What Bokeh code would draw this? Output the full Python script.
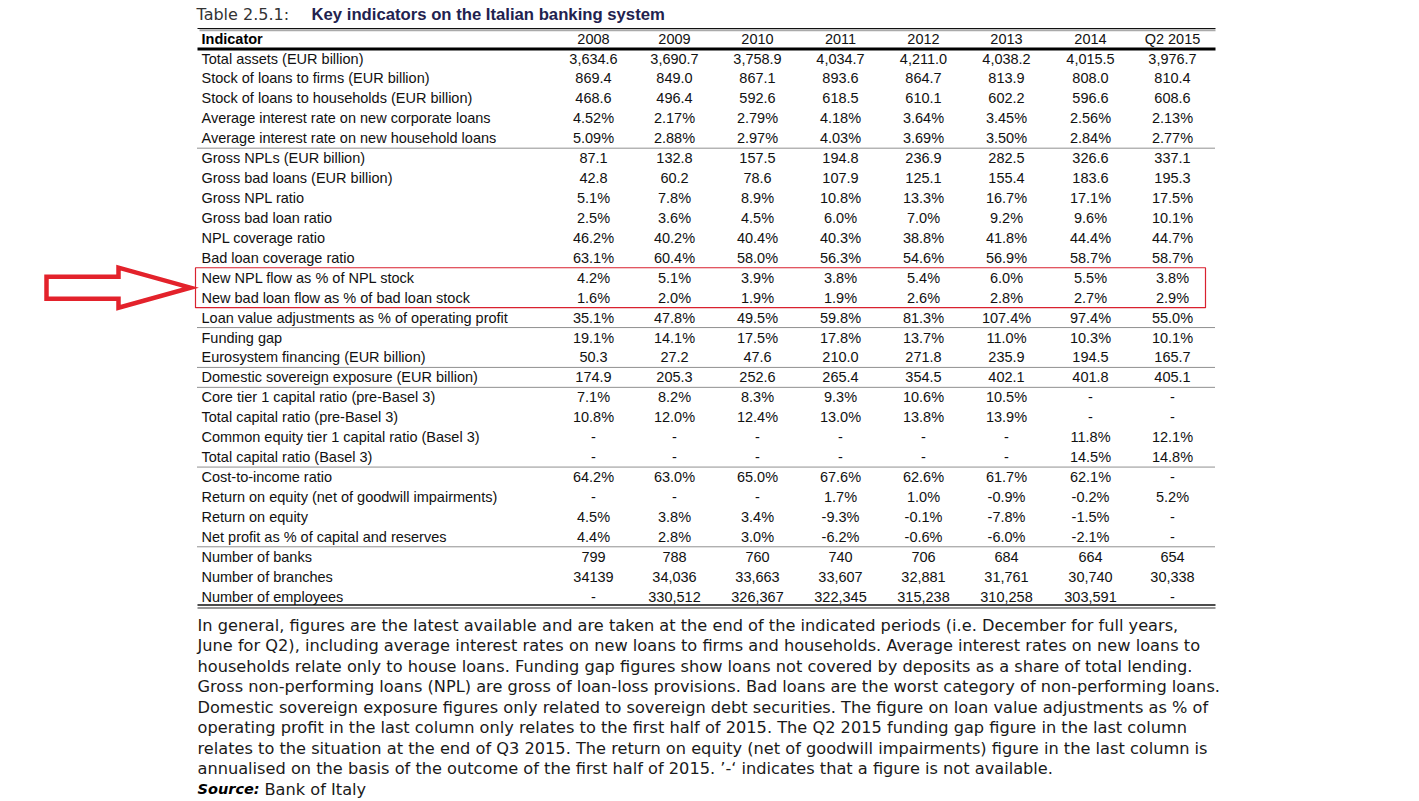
from bokeh.plotting import figure
from bokeh.models import Range1d, ColumnDataSource
from bokeh.core.properties import value
from bokeh.embed import file_html
from bokeh.resources import INLINE

# ---------------- data ----------------
title_prefix = "Table 2.5.1:"
title_main = "Key indicators on the Italian banking system"
header_label = "Indicator"
periods = ["2008", "2009", "2010", "2011", "2012", "2013", "2014", "Q2 2015"]

indicators = [
    "Total assets (EUR billion)",
    "Stock of loans to firms (EUR billion)",
    "Stock of loans to households (EUR billion)",
    "Average interest rate on new corporate loans",
    "Average interest rate on new household loans",
    "Gross NPLs (EUR billion)",
    "Gross bad loans (EUR billion)",
    "Gross NPL ratio",
    "Gross bad loan ratio",
    "NPL coverage ratio",
    "Bad loan coverage ratio",
    "New NPL flow as % of NPL stock",
    "New bad loan flow as % of bad loan stock",
    "Loan value adjustments as % of operating profit",
    "Funding gap",
    "Eurosystem financing (EUR billion)",
    "Domestic sovereign exposure (EUR billion)",
    "Core tier 1 capital ratio (pre-Basel 3)",
    "Total capital ratio (pre-Basel 3)",
    "Common equity tier 1 capital ratio (Basel 3)",
    "Total capital ratio (Basel 3)",
    "Cost-to-income ratio",
    "Return on equity (net of goodwill impairments)",
    "Return on equity",
    "Net profit as % of capital and reserves",
    "Number of banks",
    "Number of branches",
    "Number of employees",
]

v2008 = ["3,634.6", "869.4", "468.6", "4.52%", "5.09%", "87.1", "42.8", "5.1%", "2.5%", "46.2%", "63.1%",
         "4.2%", "1.6%", "35.1%", "19.1%", "50.3", "174.9", "7.1%", "10.8%", "-", "-", "64.2%", "-", "4.5%",
         "4.4%", "799", "34139", "-"]
v2009 = ["3,690.7", "849.0", "496.4", "2.17%", "2.88%", "132.8", "60.2", "7.8%", "3.6%", "40.2%", "60.4%",
         "5.1%", "2.0%", "47.8%", "14.1%", "27.2", "205.3", "8.2%", "12.0%", "-", "-", "63.0%", "-", "3.8%",
         "2.8%", "788", "34,036", "330,512"]
v2010 = ["3,758.9", "867.1", "592.6", "2.79%", "2.97%", "157.5", "78.6", "8.9%", "4.5%", "40.4%", "58.0%",
         "3.9%", "1.9%", "49.5%", "17.5%", "47.6", "252.6", "8.3%", "12.4%", "-", "-", "65.0%", "-", "3.4%",
         "3.0%", "760", "33,663", "326,367"]
v2011 = ["4,034.7", "893.6", "618.5", "4.18%", "4.03%", "194.8", "107.9", "10.8%", "6.0%", "40.3%", "56.3%",
         "3.8%", "1.9%", "59.8%", "17.8%", "210.0", "265.4", "9.3%", "13.0%", "-", "-", "67.6%", "1.7%", "-9.3%",
         "-6.2%", "740", "33,607", "322,345"]
v2012 = ["4,211.0", "864.7", "610.1", "3.64%", "3.69%", "236.9", "125.1", "13.3%", "7.0%", "38.8%", "54.6%",
         "5.4%", "2.6%", "81.3%", "13.7%", "271.8", "354.5", "10.6%", "13.8%", "-", "-", "62.6%", "1.0%", "-0.1%",
         "-0.6%", "706", "32,881", "315,238"]
v2013 = ["4,038.2", "813.9", "602.2", "3.45%", "3.50%", "282.5", "155.4", "16.7%", "9.2%", "41.8%", "56.9%",
         "6.0%", "2.8%", "107.4%", "11.0%", "235.9", "402.1", "10.5%", "13.9%", "-", "-", "61.7%", "-0.9%", "-7.8%",
         "-6.0%", "684", "31,761", "310,258"]
v2014 = ["4,015.5", "808.0", "596.6", "2.56%", "2.84%", "326.6", "183.6", "17.1%", "9.6%", "44.4%", "58.7%",
         "5.5%", "2.7%", "97.4%", "10.3%", "194.5", "401.8", "-", "-", "11.8%", "14.5%", "62.1%", "-0.2%", "-1.5%",
         "-2.1%", "664", "30,740", "303,591"]
vq22015 = ["3,976.7", "810.4", "608.6", "2.13%", "2.77%", "337.1", "195.3", "17.5%", "10.1%", "44.7%", "58.7%",
           "3.8%", "2.9%", "55.0%", "10.1%", "165.7", "405.1", "-", "-", "12.1%", "14.8%", "-", "5.2%", "-",
           "-", "654", "30,338", "-"]
columns = [v2008, v2009, v2010, v2011, v2012, v2013, v2014, vq22015]

# rows after which a dotted separator is drawn
separators_after = [4, 13, 15, 16, 20, 24]
# rows framed in red
highlight_rows = [11, 12]

notes = [
    "In general, figures are the latest available and are taken at the end of the indicated periods (i.e. December for full years,",
    "June for Q2), including average interest rates on new loans to firms and households. Average interest rates on new loans to",
    "households relate only to house loans. Funding gap figures show loans not covered by deposits as a share of total lending.",
    "Gross non-performing loans (NPL) are gross of loan-loss provisions. Bad loans are the worst category of non-performing loans.",
    "Domestic sovereign exposure figures only related to sovereign debt securities. The figure on loan value adjustments as % of",
    "operating profit in the last column only relates to the first half of 2015. The Q2 2015 funding gap figure in the last column",
    "relates to the situation at the end of Q3 2015. The return on equity (net of goodwill impairments) figure in the last column is",
    "annualised on the basis of the outcome of the first half of 2015. \u2019-\u2018 indicates that a figure is not available.",
]
source_label = "Source:"
source_text = "Bank of Italy"

# ---------------- layout ----------------
W, H = 1411, 800
p = figure(width=W, height=H, x_range=Range1d(0, W), y_range=Range1d(H, 0),
           output_backend="svg", toolbar_location=None, min_border=0,
           x_axis_type=None, y_axis_type=None)
p.grid.visible = False
p.outline_line_color = None
p.background_fill_color = "white"

TFONT = value("Liberation Sans")
TSIZE = "14.5px"
TCOL = "#111111"
left, right = 197, 1215
label_x = 201
col_x = [593, 674, 757, 840, 923, 1006, 1090, 1172]
row0, row_h = 58, 19.93
header_y = 38
row_y = [row0 + i * row_h for i in range(len(indicators))]

# title
p.text(x=[196], y=[14], text=[title_prefix], text_font=value("DejaVu Sans"), text_font_size="16px",
       text_color="#333333", text_baseline="middle", text_align="left", text_font_style="normal")
p.text(x=[311], y=[14], text=[title_main], text_font=value("Liberation Sans"), text_font_size="16.7px",
       text_color="#22224f", text_baseline="middle", text_align="left", text_font_style="bold")

# rules
p.segment(x0=[left], y0=[28], x1=[right], y1=[28], line_color="#111111", line_width=1.2)
p.segment(x0=[left + 2], y0=[29.8], x1=[right], y1=[29.8], line_color="#aaaaaa", line_width=2)
p.segment(x0=[left], y0=[48.5], x1=[right], y1=[48.5], line_color="#000000", line_width=3)
p.segment(x0=[left], y0=[604.5], x1=[right], y1=[604.5], line_color="#111111", line_width=1.5)
p.segment(x0=[left], y0=[607.5], x1=[right], y1=[607.5], line_color="#777777", line_width=1.5)
sep_y = [row_y[k] + row_h / 2 for k in separators_after]
p.segment(x0=[left] * len(sep_y), y0=sep_y, x1=[right] * len(sep_y), y1=sep_y,
          line_color="#222222", line_width=1, line_dash="1 1")

# header
p.text(x=[label_x], y=[header_y], text=[header_label], text_font=TFONT, text_font_size=TSIZE,
       text_color="#000000", text_font_style="bold", text_baseline="middle", text_align="left")
p.text(x=col_x, y=[header_y] * len(periods), text=periods, text_font=TFONT, text_font_size=TSIZE,
       text_color=TCOL, text_baseline="middle", text_align="center")

# labels
p.text(x=[label_x] * len(indicators), y=row_y, text=indicators, text_font=TFONT, text_font_size=TSIZE,
       text_color=TCOL, text_baseline="middle", text_align="left")

# values
xs, ys, ts = [], [], []
for cx, col in zip(col_x, columns):
    for ry, t in zip(row_y, col):
        xs.append(cx)
        ys.append(ry)
        ts.append(t)
src = ColumnDataSource(dict(x=xs, y=ys, t=ts))
p.text(x="x", y="y", text="t", source=src, text_font=TFONT, text_font_size=TSIZE,
       text_color=TCOL, text_baseline="middle", text_align="center")

# red highlight box
top = row_y[highlight_rows[0]] - row_h / 2
bot = row_y[highlight_rows[-1]] + row_h / 2
p.quad(left=[195], right=[1205], top=[top], bottom=[bot], fill_alpha=0,
       line_color="#d9212f", line_width=1.2)

# red arrow
ay = (top + bot) / 2
arrow_x = [46, 118, 118, 190, 118, 118, 46]
arrow_y = [ay - 11, ay - 11, ay - 20, ay, ay + 20, ay + 11, ay + 11]
p.patch(x=arrow_x, y=arrow_y, fill_alpha=0, line_color="#e3222b", line_width=4.5, line_join="miter")

# notes
NFONT = value("DejaVu Sans")
NSIZE = "16.2px"
note_y0, note_h = 624.5, 20.5
p.text(x=[197] * len(notes), y=[note_y0 + i * note_h for i in range(len(notes))], text=notes,
       text_font=NFONT, text_font_size=NSIZE, text_color="#1a1a1a", text_baseline="middle",
       text_align="left")
sy = note_y0 + len(notes) * note_h
p.text(x=[197], y=[sy], text=[source_label], text_font=NFONT, text_font_size="14.5px",
       text_color="#000000", text_font_style="bold italic", text_baseline="middle", text_align="left")
p.text(x=[264], y=[sy], text=[source_text], text_font=NFONT, text_font_size=NSIZE,
       text_color="#1a1a1a", text_baseline="middle", text_align="left")

open("out.html", "w").write(file_html(p, INLINE))
